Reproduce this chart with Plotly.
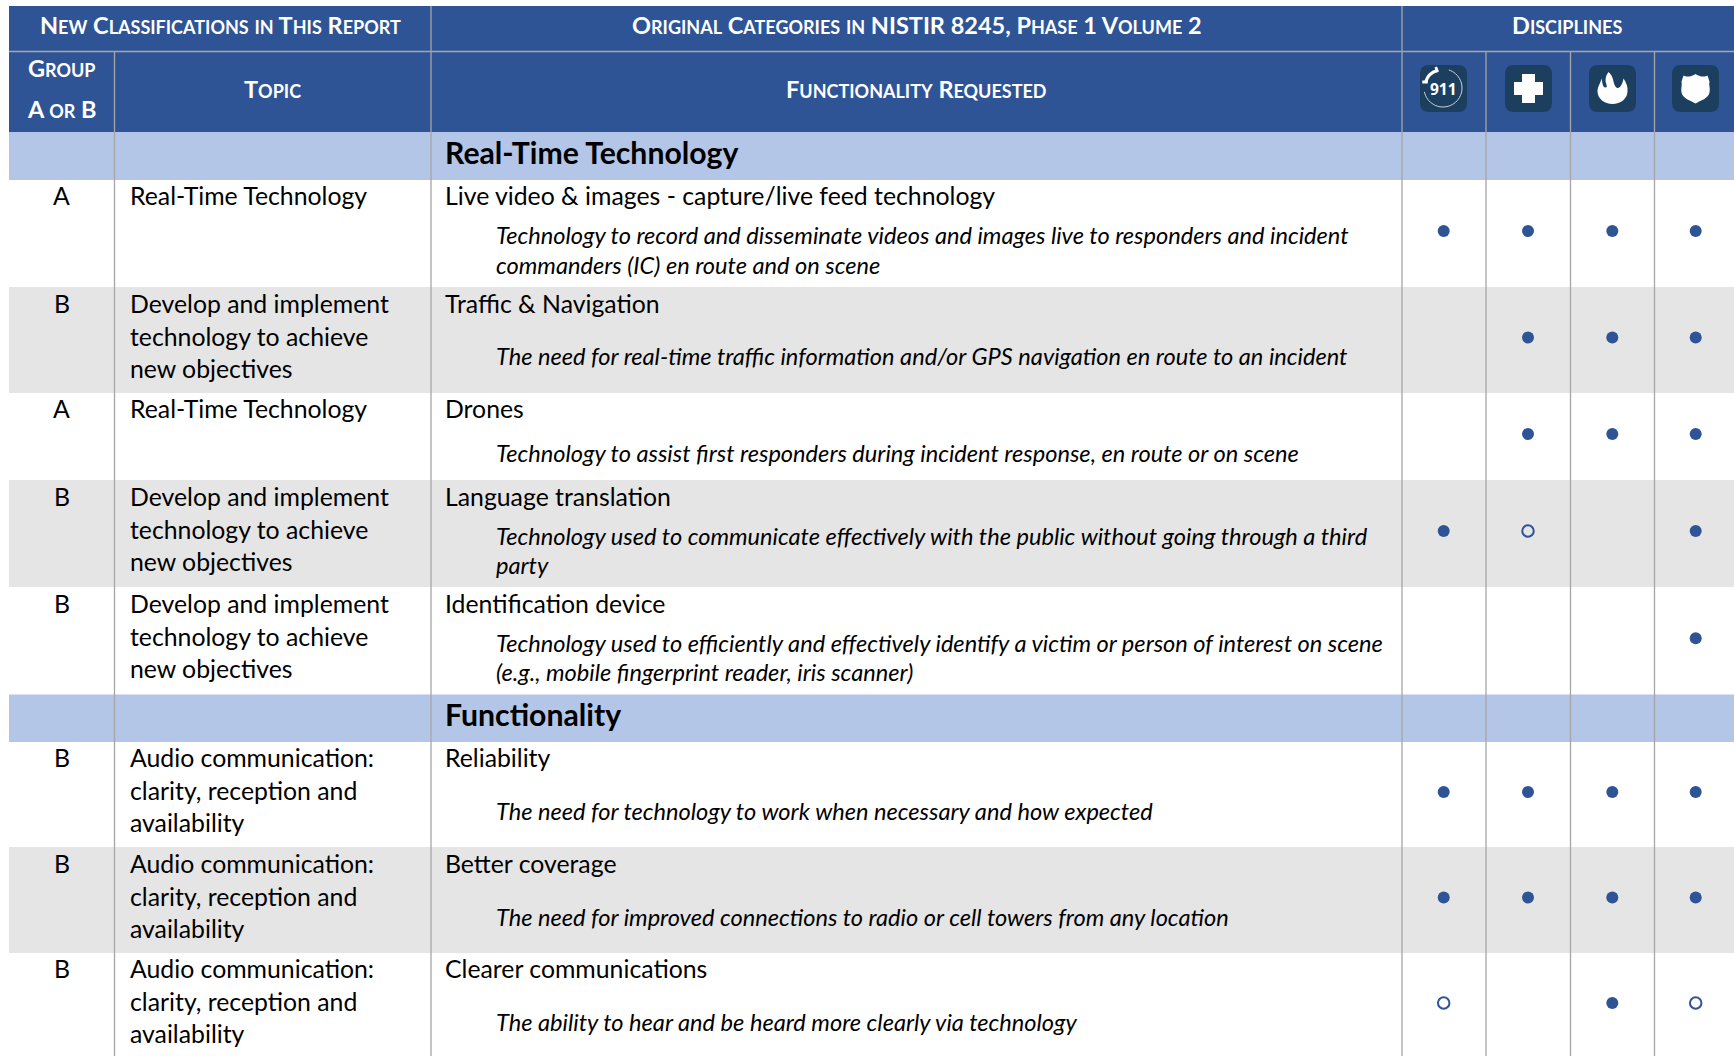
import math
import re
import plotly.graph_objects as go

# ---------- data ----------
section_titles = ["Real-Time Technology", "Functionality"]
groups = ["A", "B", "A", "B", "B", "B", "B", "B"]
topics = [
    ["Real-Time Technology"],
    ["Develop and implement", "technology to achieve", "new objectives"],
    ["Real-Time Technology"],
    ["Develop and implement", "technology to achieve", "new objectives"],
    ["Develop and implement", "technology to achieve", "new objectives"],
    ["Audio communication:", "clarity, reception and", "availability"],
    ["Audio communication:", "clarity, reception and", "availability"],
    ["Audio communication:", "clarity, reception and", "availability"],
]
functions = [
    "Live video & images - capture/live feed technology",
    "Traffic & Navigation",
    "Drones",
    "Language translation",
    "Identification device",
    "Reliability",
    "Better coverage",
    "Clearer communications",
]
descriptions = [
    ["Technology to record and disseminate videos and images live to responders and incident",
     "commanders (IC) en route and on scene"],
    ["The need for real-time traffic information and/or GPS navigation en route to an incident"],
    ["Technology to assist first responders during incident response, en route or on scene"],
    ["Technology used to communicate effectively with the public without going through a third",
     "party"],
    ["Technology used to efficiently and effectively identify a victim or person of interest on scene",
     "(e.g., mobile fingerprint reader, iris scanner)"],
    ["The need for technology to work when necessary and how expected"],
    ["The need for improved connections to radio or cell towers from any location"],
    ["The ability to hear and be heard more clearly via technology"],
]
# F = full circle, O = open circle, - = none; order 911, EMS, Fire, Police
marks = ["FFFF", "-FFF", "-FFF", "FO-F", "---F", "FFFF", "FFFF", "O-FO"]

header_top = ["New Classifications in This Report", "Original Categories in NISTIR 8245, Phase 1 Volume 2", "Disciplines"]
header_sub = ["Topic", "Functionality Requested"]
header_group = ["Group", "A or B"]

# ---------- layout constants ----------
W, H = 1734, 1056
NAVY, ICON, LIGHT, GRAY, LINE = "#2f5496", "#1c3f60", "#b3c6e7", "#e5e5e5", "#a6a6a6"
FONT = "Lato, Carlito, Calibri, sans-serif"
L, C1, C2, C3 = 9, 114.5, 431, 1402
DISC = [1486, 1570.5, 1654.5]
DOT_X = [1443.7, 1528, 1612.3, 1695.7]
Y0, Y1, Y2 = 6, 51.5, 132
SEC1 = (132, 180)
ROW1 = [180, 287, 393, 480, 587]
SEC2 = (694.5, 742)
ROW2 = [742, 847, 953, 1058]
row_edges = [(ROW1[i], ROW1[i + 1]) for i in range(4)] + [(587, 694.5)] + [(ROW2[i], ROW2[i + 1]) for i in range(3)]
title_y = [195.5, 303.5, 408.5, 496.5, 603.5, 757.5, 863.5, 968.5]
topic_step = 32.7
desc_y = [[234.5, 264.5], [356], [452.5], [536, 565], [642.6, 671.5], [810.7], [917], [1022]]
dot_y_offset = -2.5
gray_rows = [1, 3, 6]

shapes, ann = [], []


def rect(x0, y0, x1, y1, fill):
    shapes.append(dict(type="rect", x0=x0, y0=y0, x1=x1, y1=y1, fillcolor=fill, line_width=0, layer="below"))


def vline(x, y0, y1):
    shapes.append(dict(type="line", x0=x, x1=x, y0=y0, y1=y1, line=dict(color=LINE, width=1.3), layer="below"))


def text(x, y, s, size, color="#000000", anchor="left", **font):
    ann.append(dict(x=x, y=y, text=s, showarrow=False, xanchor=anchor, yanchor="middle",
                    xref="x", yref="y", align=anchor,
                    font=dict(family=FONT, size=size, color=color, **font)))


HS = 23.5
SMALL = HS * 1.08


def head(x, y, s):
    marked = re.sub(r"([a-z]+)", lambda m: f'<span style="font-size:{SMALL:.1f}px">{m.group(1)}</span>', s)
    text(x, y, marked, HS, "#ffffff", "center", weight="bold", variant="small-caps")


def path(points, close=True):
    return "M " + " L ".join(f"{x:.2f} {y:.2f}" for x, y in points) + (" Z" if close else "")


# backgrounds
rect(L, Y0, W, Y2, NAVY)
rect(L, SEC1[0], W, SEC1[1], LIGHT)
rect(L, SEC2[0], W, SEC2[1], LIGHT)
for i in gray_rows:
    rect(L, row_edges[i][0], W, row_edges[i][1], GRAY)

# grid
shapes.append(dict(type="line", x0=L, x1=W, y0=Y1, y1=Y1, line=dict(color=LINE, width=1.3), layer="below"))
vline(C2, Y0, H)
vline(C3, Y0, H)
vline(C1, Y1, H)
for x in DISC:
    vline(x, Y1, H)

# header text
head((L + C2) / 2, 24.3, header_top[0])
head((C2 + C3) / 2, 24.3, header_top[1])
head((C3 + W) / 2 - 1, 24.3, header_top[2])
head((L + C1) / 2, 67, header_group[0])
head((L + C1) / 2, 108, header_group[1])
head((C1 + C2) / 2, 88, header_sub[0])
head((C2 + C3) / 2, 88, header_sub[1])

# sections
for s, band in zip(section_titles, (SEC1, SEC2)):
    text(442.5, (band[0] + band[1]) / 2 - 4, s, 30.2, "#000000", "left", weight="bold")

# rows
BODY, DESC = 24.8, 23.6
for i in range(8):
    text((L + C1) / 2, title_y[i], groups[i], BODY, "#000000", "center")
    for k, t in enumerate(topics[i]):
        text(127.5, title_y[i] + k * topic_step, t, BODY)
    text(442.5, title_y[i], functions[i], BODY)
    for s, y in zip(descriptions[i], desc_y[i]):
        text(493.5, y, s, DESC, style="italic")

# icons
ICON_X = [1443.5, 1528.5, 1612.5, 1695.5]
ICON_Y, R, CR = 88.5, 23.5, 9
for cx in ICON_X:
    a, b = cx - R, cx + R
    t, u = ICON_Y - R, ICON_Y + R
    shapes.append(dict(type="path", layer="above", line_width=0, fillcolor=ICON,
                       path=f"M {a+CR} {t} L {b-CR} {t} Q {b} {t} {b} {t+CR} L {b} {u-CR} Q {b} {u} {b-CR} {u} "
                            f"L {a+CR} {u} Q {a} {u} {a} {u-CR} L {a} {t+CR} Q {a} {t} {a+CR} {t} Z"))
# 911: ring + handset + text
cx = ICON_X[0]
y = ICON_Y
ring = [(cx - 0.5 + 19 * math.cos(math.radians(d)), y - 0.5 + 19 * math.sin(math.radians(d))) for d in range(-72, 170, 6)]
shapes.append(dict(type="path", path=path(ring, False), layer="above", line=dict(color="#c9d3dc", width=1)))
shapes.append(dict(type="path", layer="above", line=dict(color="#ffffff", width=3.2),
                   path=f"M {cx-6} {y-18} Q {cx-15.5} {y-15.5} {cx-18} {y-6}"))
shapes.append(dict(type="path", layer="above", line=dict(color="#ffffff", width=5.5),
                   path=f"M {cx-8} {y-18.5} L {cx-5.5} {y-19.5}"))
shapes.append(dict(type="path", layer="above", line=dict(color="#ffffff", width=5.5),
                   path=f"M {cx-18.5} {y-8} L {cx-18.5} {y-5}"))
ann.append(dict(x=cx, y=y, text="911", showarrow=False, xanchor="center", yanchor="middle",
                font=dict(family="Open Sans, sans-serif", size=15.5, color="#ffffff", weight="bold")))
# cross
cx = ICON_X[1]
p, q = 14.5, 6.5
shapes.append(dict(type="path", layer="above", line_width=0, fillcolor="#ffffff", path=path([
    (cx - q, y - p), (cx + q, y - p), (cx + q, y - q), (cx + p, y - q), (cx + p, y + q),
    (cx + q, y + q), (cx + q, y + p), (cx - q, y + p), (cx - q, y + q), (cx - p, y + q),
    (cx - p, y - q), (cx - q, y - q)])))
# flame
cx = ICON_X[2]
shapes.append(dict(type="path", layer="above", line_width=0, fillcolor="#ffffff", path=(
    f"M {cx-4} {y-16.5} C {cx+2} {y-11} {cx} {y-6} {cx+3} {y-2} C {cx+5} {y+1} {cx+9} {y} {cx+11} {y-10} "
    f"C {cx+14} {y-6} {cx+15.5} {y-1} {cx+15} {y+3} C {cx+15} {y+10} {cx+8} {y+15.5} {cx} {y+15.5} "
    f"C {cx-8} {y+15.5} {cx-15} {y+10} {cx-15} {y+3} C {cx-15} {y-2} {cx-12} {y-5} {cx-11} {y-10} "
    f"C {cx-10} {y-6} {cx-10} {y-1} {cx-7} {y-1} C {cx-4} {y-1} {cx-7} {y-5} {cx-7} {y-8} "
    f"C {cx-7} {y-11} {cx-6} {y-14} {cx-4} {y-16.5} Z")))
# shield
cx = ICON_X[3]
shapes.append(dict(type="path", layer="above", line_width=0, fillcolor="#ffffff", path=(
    f"M {cx} {y-14.5} C {cx+3} {y-12} {cx+9} {y-11} {cx+12} {y-13} L {cx+14} {y-7} C {cx+13} {y-4} {cx+15} {y} {cx+14} {y+4} "
    f"C {cx+13} {y+10} {cx+5} {y+12} {cx} {y+15} C {cx-5} {y+12} {cx-13} {y+10} {cx-14} {y+4} "
    f"C {cx-15} {y} {cx-13} {y-4} {cx-14} {y-7} L {cx-12} {y-13} C {cx-9} {y-11} {cx-3} {y-12} {cx} {y-14.5} Z")))

# dots
fx, fy, ox, oy = [], [], [], []
for i, row in enumerate(marks):
    ym = (row_edges[i][0] + row_edges[i][1]) / 2 + dot_y_offset
    for j, m in enumerate(row):
        if m == "F":
            fx.append(DOT_X[j]); fy.append(ym)
        elif m == "O":
            ox.append(DOT_X[j]); oy.append(ym)

fig = go.Figure()
fig.add_trace(go.Scatter(x=fx, y=fy, mode="markers", hoverinfo="skip",
                         marker=dict(symbol="circle", size=12, color=NAVY, line_width=0)))
fig.add_trace(go.Scatter(x=ox, y=oy, mode="markers", hoverinfo="skip",
                         marker=dict(symbol="circle-open", size=11.5, color=NAVY, line=dict(width=2, color=NAVY))))
fig.update_layout(
    width=W, height=H, margin=dict(l=0, r=0, t=0, b=0), showlegend=False,
    paper_bgcolor="#ffffff", plot_bgcolor="#ffffff", shapes=shapes, annotations=ann,
    xaxis=dict(range=[0, W], visible=False, fixedrange=True),
    yaxis=dict(range=[H, 0], visible=False, fixedrange=True),
)
fig.write_html("out.html", config=dict(displayModeBar=False),
               post_script="document.body.style.margin='0';document.body.style.overflow='hidden';")
